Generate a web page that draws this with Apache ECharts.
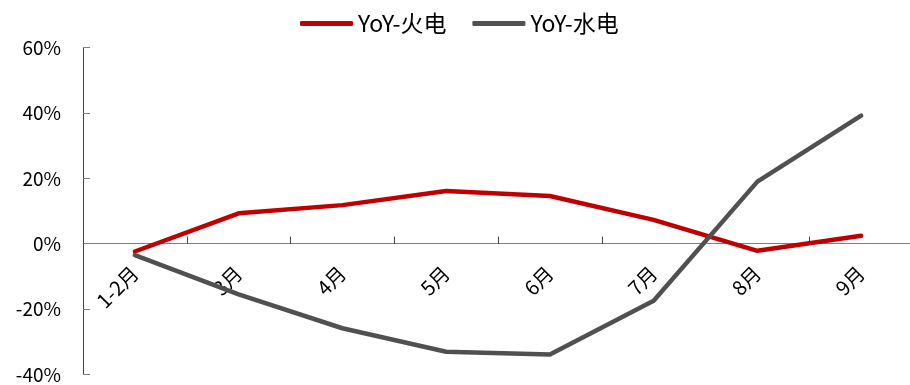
<!DOCTYPE html>
<html>
<head>
<meta charset="utf-8">
<script src="https://cdn.jsdelivr.net/npm/echarts@6/dist/echarts.min.js"></script>
<style>
  html, body { margin: 0; padding: 0; background: #fff; }
  #chart { width: 910px; height: 385px; }
</style>
</head>
<body>
<div id="chart"></div>
<script>
// Monthly year-on-year growth of thermal and hydro power generation (%)
const months = ['1-2月', '3月', '4月', '5月', '6月', '7月', '8月', '9月'];
const thermalYoY = [-2.4, 9.3, 11.8, 16.1, 14.6, 7.3, -2.2, 2.4];
const hydroYoY = [-3.5, -15.5, -25.9, -33.1, -33.9, -17.5, 19.0, 39.2];
const seriesNames = ['YoY-火电', 'YoY-水电'];
const seriesColors = ['#C00000', '#505050'];

const FONT = '"Noto Sans CJK SC", "Noto Sans", sans-serif';

// value range and plot box
const Y_MIN = -40, Y_MAX = 60;
const GRID = { left: 83, right: -3, top: 47.7, bottom: 10.7 };
const CHART_H = 385;
// the category axis sits on the 0% line; shift it up from the grid bottom
const plotH = CHART_H - GRID.top - GRID.bottom;
const zeroOffset = -plotH * (0 - Y_MIN) / (Y_MAX - Y_MIN);

const chart = echarts.init(document.getElementById('chart'), null, { renderer: 'canvas' });

chart.setOption({
  animation: false,
  backgroundColor: '#ffffff',
  legend: {
    left: 295,
    top: 7,
    itemWidth: 53,
    itemHeight: 5,
    itemGap: 26,
    icon: 'roundRect',
    textStyle: { fontFamily: FONT, fontSize: 23, color: '#000', padding: [0, 0, 0, 0] },
    data: seriesNames
  },
  grid: Object.assign({ containLabel: false, outerBoundsMode: 'none' }, GRID),
  xAxis: {
    type: 'category',
    data: months,
    boundaryGap: true,
    position: 'bottom',
    offset: zeroOffset,
    axisLine: { onZero: false, lineStyle: { color: '#7f7f7f', width: 1 } },
    axisTick: { show: true, inside: true, length: 7, alignWithLabel: false, lineStyle: { color: '#404040' } },
    axisLabel: {
      rotate: 45,
      margin: 26,
      interval: 0,
      fontFamily: FONT,
      fontSize: 20,
      color: '#000'
    },
    splitLine: { show: false }
  },
  yAxis: {
    type: 'value',
    min: Y_MIN,
    max: Y_MAX,
    interval: 20,
    axisLine: { show: true, lineStyle: { color: '#404040', width: 1 } },
    axisTick: { show: true, inside: true, length: 7, lineStyle: { color: '#7f7f7f' } },
    axisLabel: {
      margin: 22,
      fontFamily: FONT,
      fontSize: 19,
      color: '#000',
      formatter: v => v + '%'
    },
    splitLine: { show: false }
  },
  series: [
    {
      name: seriesNames[0],
      type: 'line',
      data: thermalYoY,
      showSymbol: false,
      symbol: 'none',
      color: seriesColors[0],
      lineStyle: { color: seriesColors[0], width: 4.5, cap: 'round', join: 'round' }
    },
    {
      name: seriesNames[1],
      type: 'line',
      data: hydroYoY,
      showSymbol: false,
      symbol: 'none',
      color: seriesColors[1],
      lineStyle: { color: seriesColors[1], width: 4.5, cap: 'round', join: 'round' }
    }
  ]
});
</script>
</body>
</html>
